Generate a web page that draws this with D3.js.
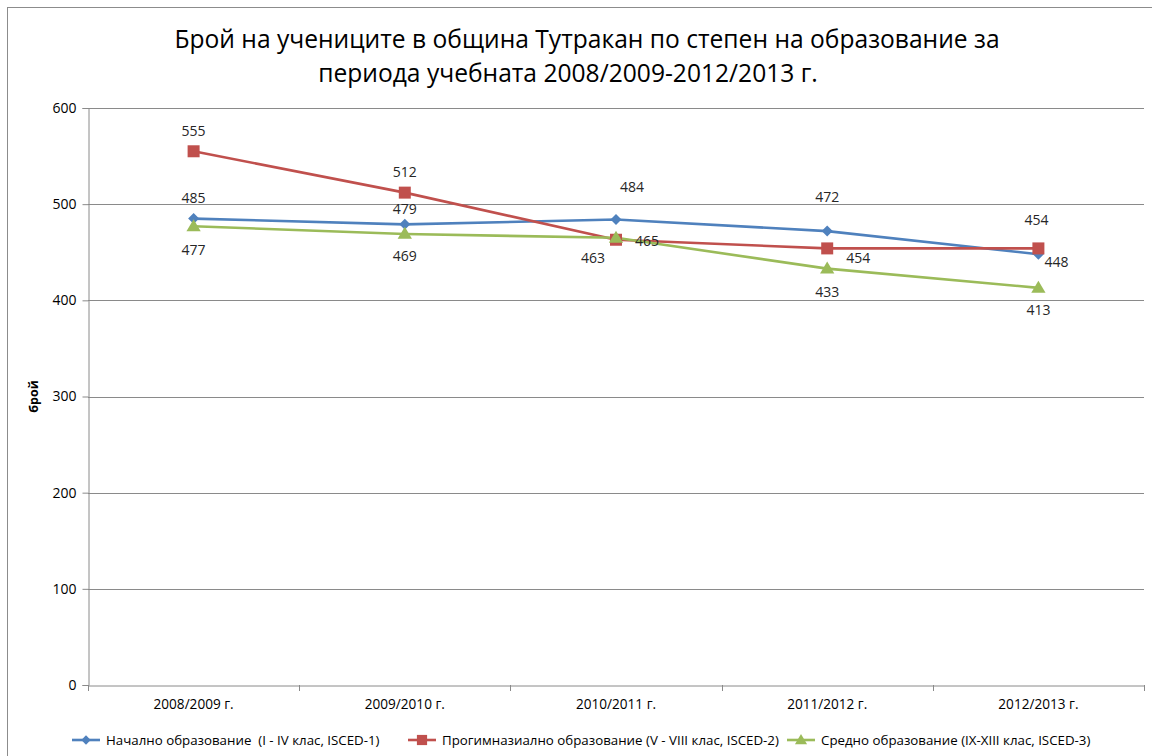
<!DOCTYPE html>
<html>
<head>
<meta charset="utf-8">
<script src="https://cdn.jsdelivr.net/npm/d3@7"></script>
<style>
  html, body { margin: 0; padding: 0; background: #fff; }
  svg { display: block; font-family: "Open Sans", "Noto Sans", sans-serif; }
  text { white-space: pre; }
</style>
</head>
<body>
<svg id="chart" width="1152" height="756"></svg>
<script>
const categories = ["2008/2009 г.", "2009/2010 г.", "2010/2011 г.", "2011/2012 г.", "2012/2013 г."];
const seriesNames = [
  "Начално образование  (I - IV клас, ISCED-1)",
  "Прогимназиално образование (V - VIII клас, ISCED-2)",
  "Средно образование (IX-XIII клас, ISCED-3)"
];
const primaryValues = [485, 479, 484, 472, 448];
const lowerSecondaryValues = [555, 512, 463, 454, 454];
const upperSecondaryValues = [477, 469, 465, 433, 413];
const yTicks = [0, 100, 200, 300, 400, 500, 600];
const titleLines = ["Брой на учениците в община Тутракан по степен на образование за", "периода учебната 2008/2009-2012/2013 г."];
const yAxisTitle = "брой";

// label placement offsets (styling, from point centre)
const labelOffsets = [
  [[0,-21],[0,-16],[16,-33],[0,-35],[18,7]],
  [[0,-21],[0,-21],[-23,18],[31,9],[-2,-29]],
  [[0,23],[0,22],[31,3],[0,23],[0,22]]
];
const colors = ["#4F81BD", "#C0504D", "#9BBB59"];
const markers = ["diamond", "square", "triangle"];

const series = seriesNames.map((name, i) => ({
  name,
  values: [primaryValues, lowerSecondaryValues, upperSecondaryValues][i],
  color: colors[i],
  marker: markers[i],
  offsets: labelOffsets[i]
}));

const svg = d3.select("#chart");
const margin = {left: 88, top: 108, right: 8, bottom: 71};
const W = 1152, H = 756;

// outer chart border
svg.append("rect").attr("x", 7.5).attr("y", 7.5).attr("width", 1160).attr("height", 760)
  .attr("fill", "none").attr("stroke", "#8c8c8c").attr("stroke-width", 1);

const x = d3.scaleBand().domain(categories).range([margin.left, W - margin.right]);
const y = d3.scaleLinear().domain([0, 600]).range([H - margin.bottom, margin.top]);

// title
const titleX = [587, 568];
svg.append("g").selectAll("text").data(titleLines).join("text")
  .attr("x", (d, i) => titleX[i])
  .attr("y", (d, i) => 48 + i * 34)
  .attr("text-anchor", "middle")
  .attr("font-size", 24.6)
  .attr("fill", "#000")
  .text(d => d);

// gridlines
svg.append("g").selectAll("line").data(yTicks.filter(t => t > 0)).join("line")
  .attr("x1", margin.left).attr("x2", W - margin.right)
  .attr("y1", d => Math.round(y(d)) + 0.5).attr("y2", d => Math.round(y(d)) + 0.5)
  .attr("stroke", "#8a8a8a").attr("stroke-width", 1);

// y axis
const yAxis = svg.append("g").attr("transform", `translate(${margin.left + 0.5},0)`)
  .call(d3.axisLeft(y).tickValues(yTicks).tickSize(6).tickPadding(6).tickFormat(d3.format("d")));
yAxis.select(".domain").attr("stroke", "#8a8a8a");
yAxis.selectAll(".tick line").attr("stroke", "#8a8a8a");
yAxis.selectAll(".tick text").attr("font-size", 14).attr("fill", "#000").attr("font-family", "Open Sans");

// x axis
const xAxis = svg.append("g").attr("transform", `translate(0,${Math.round(y(0)) + 0.5})`)
  .call(d3.axisBottom(x).tickSize(0).tickPadding(14));
xAxis.select(".domain").attr("stroke", "#8a8a8a");
xAxis.selectAll(".tick text").attr("font-size", 13.6).attr("fill", "#000").attr("font-family", "Open Sans");
// boundary tick marks between categories
const bounds = categories.map(c => x(c)).concat([x(categories[categories.length - 1]) + x.bandwidth()]);
svg.append("g").selectAll("line").data(bounds).join("line")
  .attr("x1", d => Math.round(d) + 0.5).attr("x2", d => Math.round(d) + 0.5)
  .attr("y1", Math.round(y(0))).attr("y2", Math.round(y(0)) + 6)
  .attr("stroke", "#8a8a8a");

// y axis title
svg.append("text")
  .attr("transform", `translate(38,${y(300)}) rotate(-90)`)
  .attr("text-anchor", "middle")
  .attr("font-size", 12.5).attr("font-weight", "bold").attr("fill", "#000")
  .text(yAxisTitle);

function markerPath(type, size) {
  const s = size;
  if (type === "diamond") return `M0,${-s}L${s},0L0,${s}L${-s},0Z`;
  if (type === "square") return `M${-s},${-s}H${s}V${s}H${-s}Z`;
  return `M0,${-s * 1.1}L${s * 1.1},${s * 0.75}L${-s * 1.1},${s * 0.75}Z`;
}
const markerSize = {diamond: 5.5, square: 6, triangle: 6.5};

const cx = c => x(c) + x.bandwidth() / 2;
const line = d3.line().x((d, i) => cx(categories[i])).y(d => y(d));

const g = svg.append("g");
series.forEach(s => {
  g.append("path").attr("d", line(s.values)).attr("fill", "none")
    .attr("stroke", s.color).attr("stroke-width", 2.6).attr("stroke-linejoin", "round");
});
series.forEach(s => {
  g.append("g").selectAll("path").data(s.values).join("path")
    .attr("transform", (d, i) => `translate(${cx(categories[i])},${y(d)})`)
    .attr("d", markerPath(s.marker, markerSize[s.marker]))
    .attr("fill", s.color);
});
series.forEach(s => {
  g.append("g").selectAll("text").data(s.values).join("text")
    .attr("x", (d, i) => cx(categories[i]) + s.offsets[i][0])
    .attr("y", (d, i) => y(d) + s.offsets[i][1])
    .attr("text-anchor", "middle").attr("dominant-baseline", "central")
    .attr("font-size", 14).attr("fill", "#262626")
    .text(d => d);
});

// legend
const legendX = [72, 408, 787];
const legend = svg.append("g").attr("transform", "translate(0,740)");
series.forEach((s, i) => {
  const lg = legend.append("g").attr("transform", `translate(${legendX[i]},0)`);
  lg.append("line").attr("x1", 0).attr("x2", 28).attr("y1", 0).attr("y2", 0)
    .attr("stroke", s.color).attr("stroke-width", 2.6);
  lg.append("path").attr("transform", "translate(14,0)")
    .attr("d", markerPath(s.marker, markerSize[s.marker] * 0.85)).attr("fill", s.color);
  lg.append("text").attr("x", 34).attr("y", 0).attr("dominant-baseline", "central")
    .attr("font-size", 13.3).attr("fill", "#000").text(s.name);
});
</script>
</body>
</html>
